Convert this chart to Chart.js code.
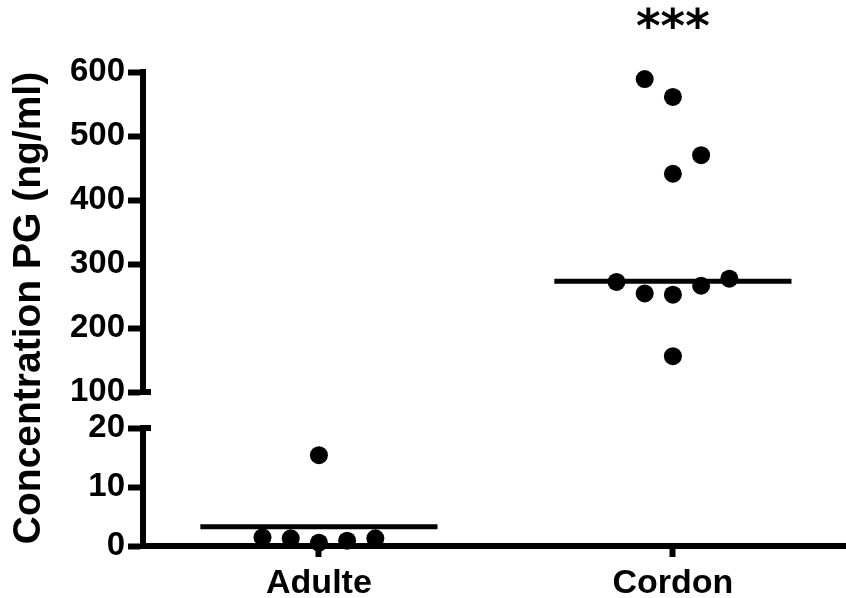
<!DOCTYPE html>
<html><head><meta charset="utf-8">
<script src="https://cdn.jsdelivr.net/npm/chart.js@4.4.0/dist/chart.umd.min.js"></script>
<style>html,body{margin:0;padding:0;background:#fff;}#wrap{width:846px;height:598px;}</style>
</head><body><div id="wrap"><canvas id="c" width="846" height="598"></canvas></div>
<script>
// ---- data ----
const categories = ['Adulte', 'Cordon'];
const adulteValues = [1.47, 1.3, 0.56, 0.9, 1.3, 15.4];
const adulteSlots  = [-2, -1, 0, 1, 2, 0];
const cordonValues = [589, 561, 470, 441, 272, 254, 252, 266, 277, 156];
const cordonSlots  = [-1, 0, 1, 0, -2, -1, 0, 1, 2, 0];
const centralValues = [3.27, 273];
const topTicks = [100, 200, 300, 400, 500, 600];
const bottomTicks = [0, 10, 20];
const significance = '***';
const yTitle = 'Concentration PG (ng/ml)';

// ---- style ----
const SLOT = 0.0797, HALF = 0.335;
const FAM = '"Liberation Sans", Arial, Helvetica, sans-serif';
const TICKFONT = {family: FAM, size: 33, weight: 'bold'};
const pts = (vals, slots, cat) => vals.map((v, i) => ({x: cat + slots[i] * SLOT, y: v}));
const seg = (cat, v) => [{x: cat - HALF, y: v}, {x: cat + HALF, y: v}];
const dotStyle = {pointRadius: 9, pointHoverRadius: 9, backgroundColor: '#000', borderWidth: 0, clip: false};
const lineStyle = {showLine: true, pointRadius: 0, borderColor: '#000', borderWidth: 5, clip: false};

const yCommon = (ticksArr) => ({
  type: 'linear', position: 'left', stack: 'brk',
  afterBuildTicks: s => { s.ticks = ticksArr.map(v => ({value: v})); },
  afterFit: s => { s.width = 143; },
  ticks: {font: TICKFONT, color: '#000', padding: 3, autoSkip: false},
  grid: {display: true, drawOnChartArea: false, drawTicks: true, tickLength: 15, tickWidth: 6, tickColor: '#000'},
  border: {display: true, color: '#000', width: 6}
});

const decor = {
  id: 'decor',
  afterDraw(chart) {
    const ctx = chart.ctx;
    const {yTop, yBot, x} = chart.scales;
    const ax = chart.chartArea.left;
    ctx.save();
    ctx.strokeStyle = '#000'; ctx.fillStyle = '#000'; ctx.lineWidth = 6; ctx.lineCap = 'butt';
    [[yTop, topTicks[0]], [yBot, bottomTicks[bottomTicks.length - 1]]].forEach(([s, v]) => {
      const py = s.getPixelForValue(v);
      ctx.beginPath(); ctx.moveTo(ax - 3, py); ctx.lineTo(ax + 8, py); ctx.stroke();
    });
    // significance stars
    ctx.font = 'bold 47px "DejaVu Sans"';
    ctx.textAlign = 'center'; ctx.textBaseline = 'alphabetic';
    ctx.fillText(significance, x.getPixelForValue(1), 42);
    // y title
    ctx.font = 'bold 39px ' + FAM;
    ctx.translate(40, 308);
    ctx.rotate(-Math.PI / 2);
    ctx.textAlign = 'center';
    ctx.fillText(yTitle, 0, 0);
    ctx.restore();
  }
};

new Chart(document.getElementById('c'), {
  type: 'scatter',
  data: {
    datasets: [
      Object.assign({label: categories[0], data: pts(adulteValues, adulteSlots, 0), yAxisID: 'yBot'}, dotStyle),
      Object.assign({label: categories[1], data: pts(cordonValues, cordonSlots, 1), yAxisID: 'yTop'}, dotStyle),
      Object.assign({label: 'c0', data: seg(0, centralValues[0]), yAxisID: 'yBot'}, lineStyle),
      Object.assign({label: 'c1', data: seg(1, centralValues[1]), yAxisID: 'yTop'}, lineStyle)
    ]
  },
  options: {
    responsive: false, animation: false, devicePixelRatio: 1,
    layout: {autoPadding: false, padding: {top: 72, left: 0, right: 0, bottom: 0}},
    plugins: {legend: {display: false}, tooltip: {enabled: false}},
    scales: {
      x: {
        type: 'linear', position: 'bottom', min: -0.497, max: 1.489,
        afterBuildTicks: s => { s.ticks = categories.map((c, i) => ({value: i})); },
        afterFit: s => { s.height = 52; },
        ticks: {callback: v => categories[v] ?? '', font: {family: FAM, size: 34, weight: 'bold'},
                color: '#000', padding: 6, maxRotation: 0, autoSkip: false},
        grid: {display: true, drawOnChartArea: false, drawTicks: true, tickLength: 11, tickWidth: 6, tickColor: '#000'},
        border: {display: true, color: '#000', width: 6}
      },
      yBot: Object.assign(yCommon(bottomTicks), {min: 0, max: 20, stackWeight: 118}),
      yGap: {type: 'linear', position: 'left', stack: 'brk', stackWeight: 36, min: 0, max: 1,
             afterFit: s => { s.width = 143; },
             ticks: {display: false}, grid: {display: false}, border: {display: false}},
      yTop: Object.assign(yCommon(topTicks), {min: 100, max: 600, stackWeight: 320})
    }
  },
  plugins: [decor]
});
</script></body></html>
